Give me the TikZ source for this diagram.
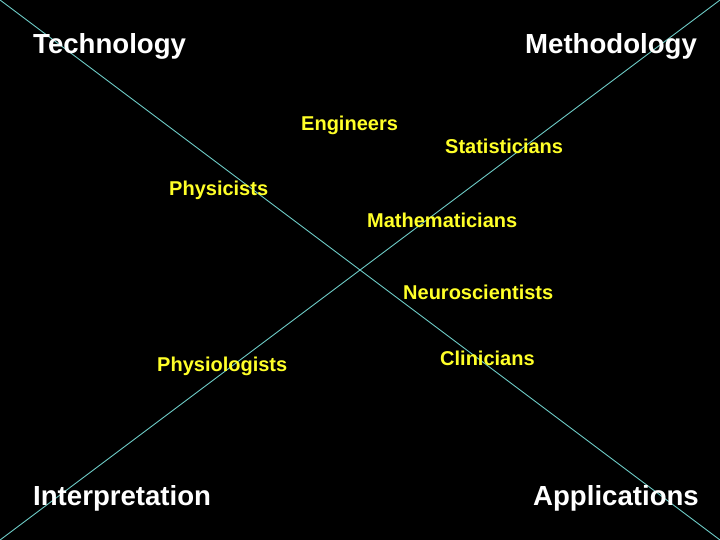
\documentclass[tikz,border=0pt]{standalone}
\usepackage{fontspec}
\setmainfont{Liberation Sans}
\usepackage{xcolor}
\usepackage{tikz}
\definecolor{diagcyan}{RGB}{110,205,200}
\definecolor{roleyellow}{RGB}{255,255,40}

\begin{document}
\begin{tikzpicture}[x=1pt, y=-1pt]
            % Text styles
            \tikzstyle{field} = [anchor=base west, inner sep=0pt, text=white, font=\fontsize{27.6}{30}\selectfont\bfseries]
            \tikzstyle{role} = [anchor=base west, inner sep=0pt, text=roleyellow, font=\fontsize{20}{24}\selectfont\bfseries]
            % Background and corners
            \fill[black] (0,0) rectangle (720,540);
            \useasboundingbox (0,0) rectangle (720,540);
            \coordinate (topleft) at (0,0);
            \coordinate (topright) at (720,0);
            \coordinate (bottomleft) at (0,540);
            \coordinate (bottomright) at (720,540);
            % Diagonals
            \draw[diagcyan, line width=0.9pt] (topleft) -- (bottomright);
            \draw[diagcyan, line width=0.9pt] (topright) -- (bottomleft);
            % Corner fields
            \node[field] (technology) at (33,54) {Technology};
            \node[field] (methodology) at (525,54) {Methodology};
            \node[field] (interpretation) at (33,505) {Interpretation};
            \node[field] (applications) at (533,505) {Applications};
            % Disciplines
            \node[role] (engineers) at (301,131) {Engineers};
            \node[role] (statisticians) at (445,154) {Statisticians};
            \node[role] (physicists) at (169,196) {Physicists};
            \node[role] (mathematicians) at (367,227) {Mathematicians};
            \node[role] (neuroscientists) at (403,299) {Neuroscientists};
            \node[role] (physiologists) at (157,371) {Physiologists};
            \node[role] (clinicians) at (440,365) {Clinicians};
        \end{tikzpicture}
\end{document}
